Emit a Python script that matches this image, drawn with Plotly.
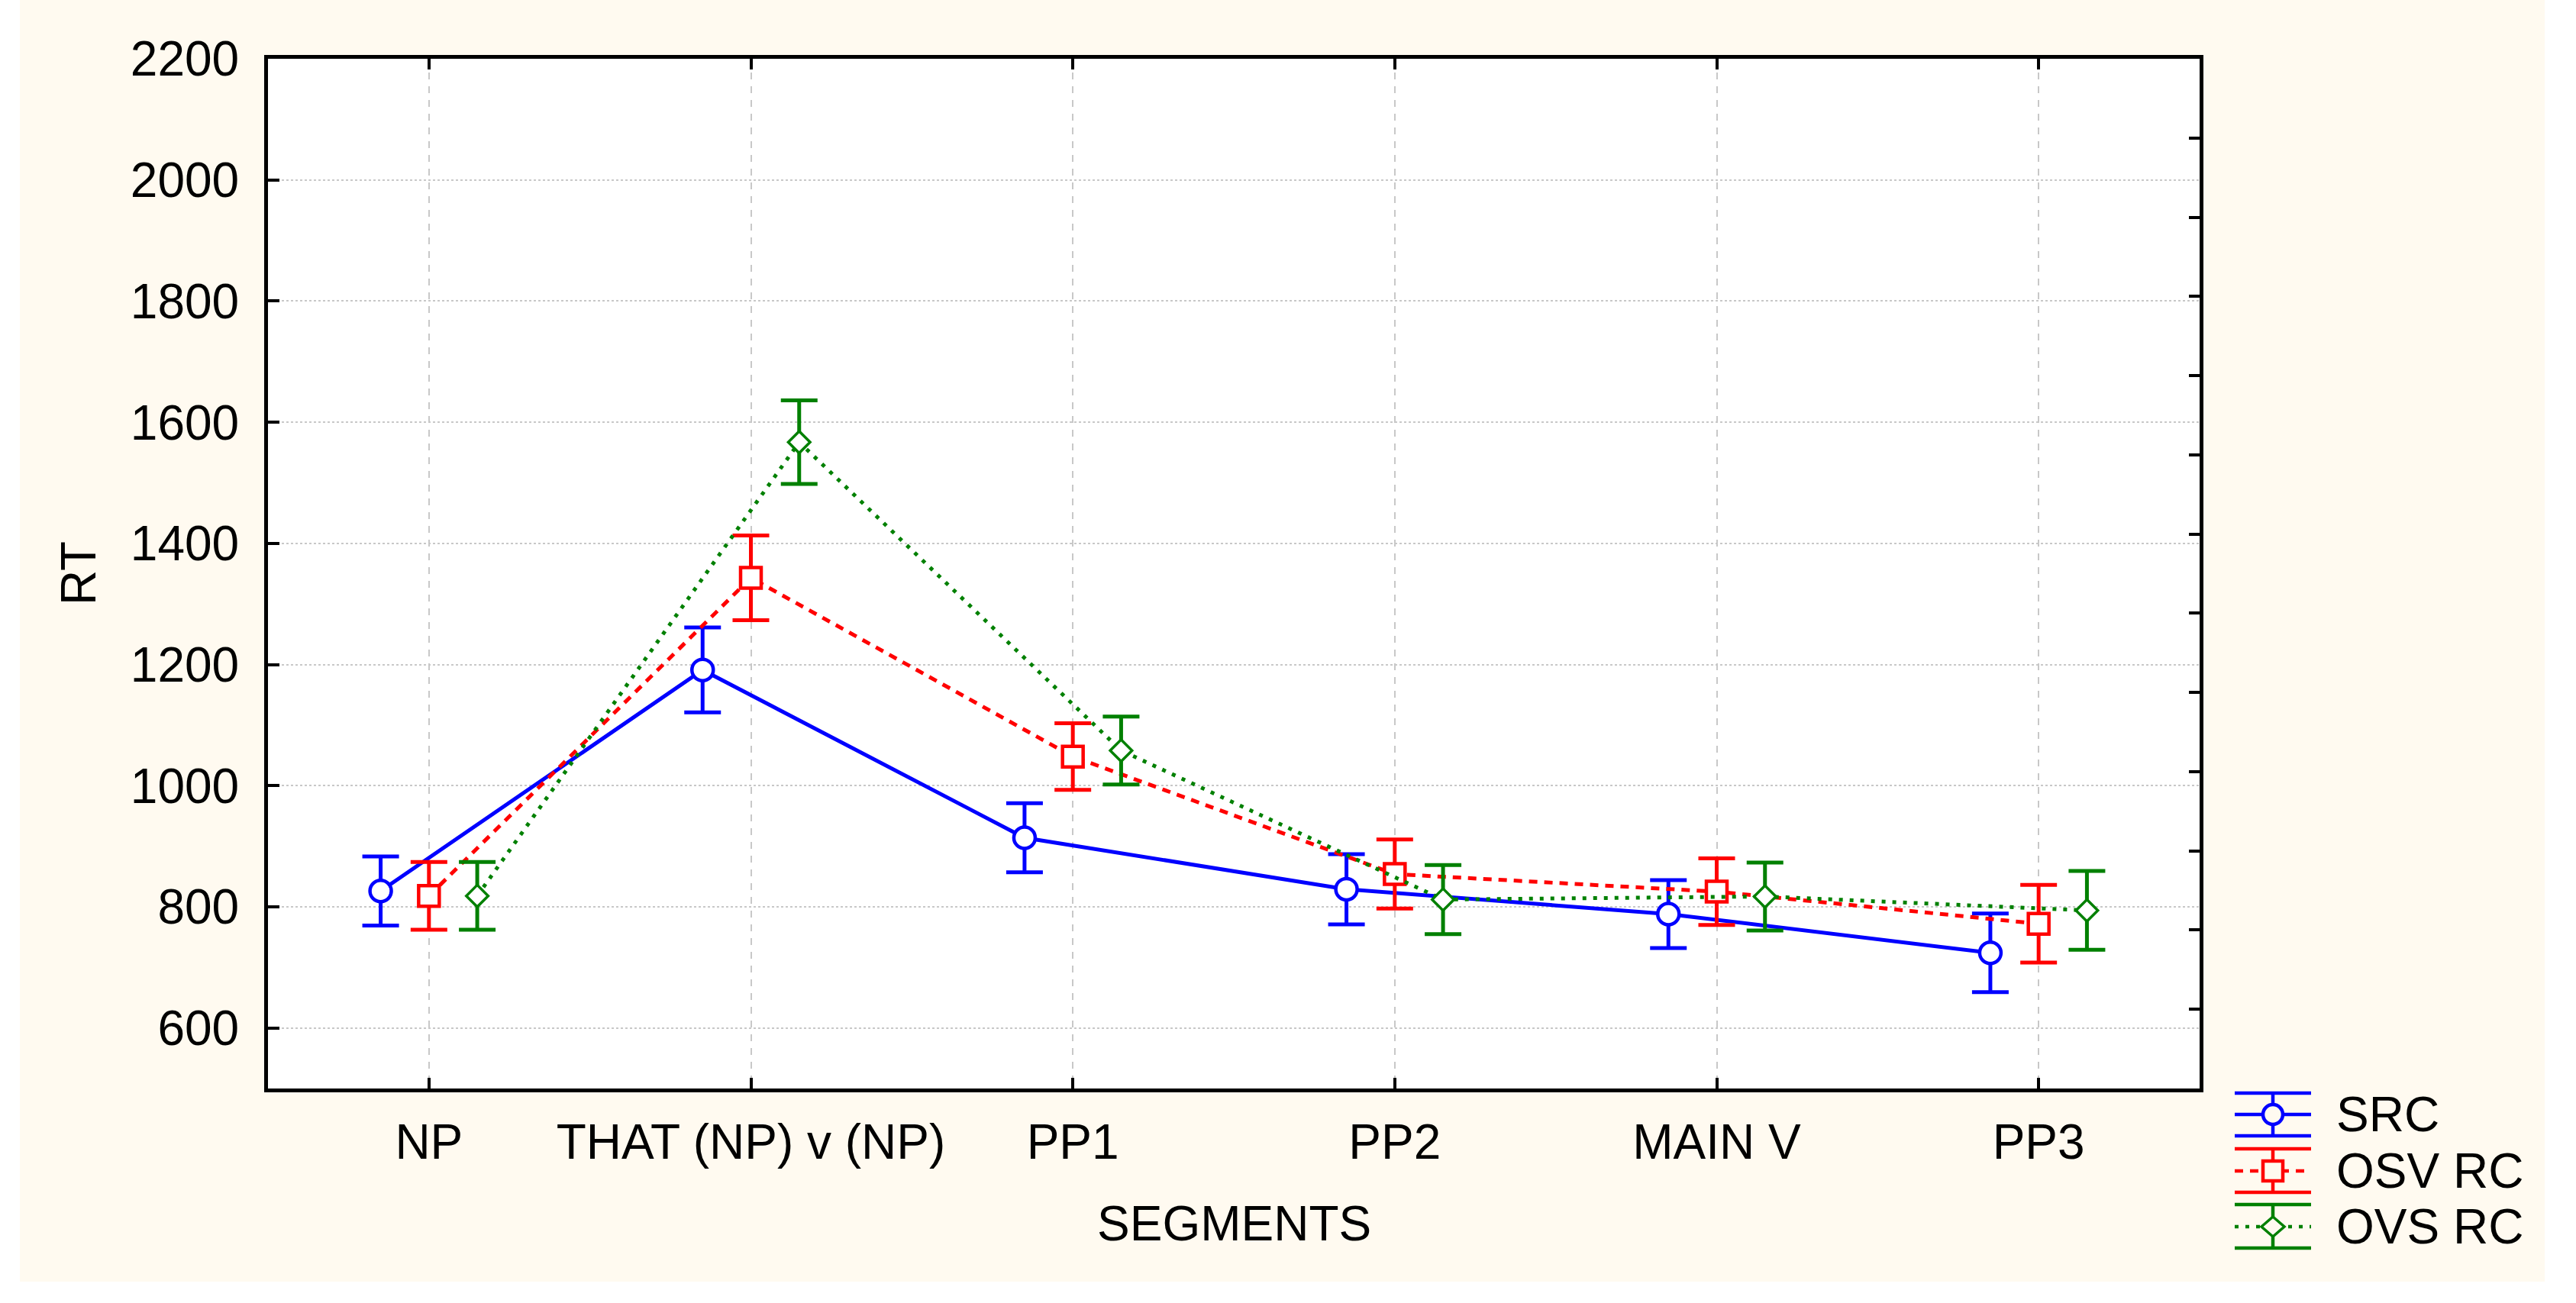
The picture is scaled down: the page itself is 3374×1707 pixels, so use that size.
import numpy as np
import plotly.graph_objects as go

# ---------------- data ----------------
categories = ["NP", "THAT (NP) v (NP)", "PP1", "PP2", "MAIN V", "PP3"]
y_ticks = [600, 800, 1000, 1200, 1400, 1600, 1800, 2000, 2200]

src_mean = [826, 1191, 914, 829, 788, 724]
src_err = [57, 70, 57, 58, 56, 65]
osv_mean = [818, 1343, 1048, 854, 825, 772]
osv_err = [56, 70, 55, 57, 55, 64]
ovs_mean = [818, 1567, 1058, 812, 817, 794]
ovs_err = [56, 69, 56, 57, 56, 65]
series_names = ["SRC", "OSV RC", "OVS RC"]

# ---------------- style ----------------
W, H = 3374, 1707
L, R, T, B = 351, 2881, 77, 1426
FONT = "Arial, 'Liberation Sans', sans-serif"
FS = 64
CREAM = "#FFFAF0"
BLUE, RED, GREEN = "#0000FF", "#FF0000", "#008000"
GRID = "#C8C8C8"
DASH_RED = "11px,9px"
DASH_GREEN = "5px,9px"


def px(x):
    return (x - L) / (R - L)


def py(y):
    return (B - y) / (B - T)


xi = np.arange(len(categories))
offset = 0.15

fig = go.Figure()

specs = [
    (series_names[0], src_mean, src_err, -offset, BLUE, "solid", "circle", 28, 4.5),
    (series_names[1], osv_mean, osv_err, 0.0, RED, DASH_RED, "square", 27, 4.5),
    (series_names[2], ovs_mean, ovs_err, offset, GREEN, DASH_GREEN, "diamond", 22, 3.5),
]

for name, mean, err, off, col, dash, sym, size, mlw in specs:
    fig.add_trace(go.Scatter(
        x=xi + off, y=mean, name=name, mode="lines+markers",
        line=dict(color=col, width=5, dash=dash),
        marker=dict(symbol=sym, size=size, color="white",
                    line=dict(color=col, width=mlw)),
        error_y=dict(type="data", array=err, visible=True, color=col,
                     thickness=5, width=24),
        showlegend=False,
    ))

# invisible trace for the right-hand tick axis
fig.add_trace(go.Scatter(x=[None], y=[None], yaxis="y2", showlegend=False,
                         hoverinfo="skip"))

fig.update_layout(
    width=W, height=H, autosize=False,
    margin=dict(l=L, r=W - R, t=T, b=H - B, pad=0),
    paper_bgcolor=CREAM, plot_bgcolor="white",
    font=dict(family=FONT, size=FS, color="black"),
    xaxis=dict(
        range=[-0.5, 5.5], tickvals=list(xi), ticktext=categories,
        showline=True, linecolor="black", linewidth=5, mirror="ticks",
        ticks="inside", ticklen=14, tickwidth=4, tickcolor="black",
        showgrid=True, gridcolor=GRID, gridwidth=2, griddash="dash",
        zeroline=False, tickfont=dict(size=FS), ticklabelstandoff=10,
    ),
    yaxis=dict(
        range=[500, 2200], tickvals=y_ticks,
        showline=True, linecolor="black", linewidth=5, mirror=True,
        ticks="inside", ticklen=15, tickwidth=4, tickcolor="black",
        showgrid=True, gridcolor=GRID, gridwidth=2, griddash="dot",
        zeroline=False, tickfont=dict(size=FS), ticklabelstandoff=20,
    ),
    yaxis2=dict(
        overlaying="y", side="right", range=[0, 13],
        tickvals=list(range(1, 13)), showticklabels=False,
        ticks="inside", ticklen=14, tickwidth=4, tickcolor="black",
        showgrid=False, zeroline=False, showline=False,
    ),
    showlegend=False,
)

annotations = [
    dict(text="RT", x=px(103), y=py(751), xref="paper", yref="paper",
         textangle=-90, showarrow=False, xanchor="center", yanchor="middle",
         font=dict(size=FS)),
    dict(text="SEGMENTS", x=px(1616), y=py(1603), xref="paper", yref="paper",
         showarrow=False, xanchor="center", yanchor="middle",
         font=dict(size=FS)),
]

shapes = []
# white page edges outside the cream panel
for x0, y0, x1, y1 in [(0, 0, 26, H), (3333, 0, W, H), (0, 1679, W, H)]:
    shapes.append(dict(type="rect", xref="paper", yref="paper",
                       x0=px(x0), x1=px(x1), y0=py(y0), y1=py(y1),
                       fillcolor="white", line=dict(width=0), layer="above"))

# custom legend glyphs (error-bar style)
lx0, lx1, lcx = 2927, 3027, 2977
leg_rows = [(1432, 1460, 1488), (1505, 1534, 1562), (1578, 1607, 1635)]
for (name, mean, err, off, col, dash, sym, size, mlw), (yt, yc, yb) in zip(specs, leg_rows):
    for yy in (yt, yb):
        shapes.append(dict(type="line", xref="paper", yref="paper",
                           x0=px(lx0), x1=px(lx1), y0=py(yy), y1=py(yy),
                           line=dict(color=col, width=4.5)))
    shapes.append(dict(type="line", xref="paper", yref="paper",
                       x0=px(lcx), x1=px(lcx), y0=py(yt), y1=py(yb),
                       line=dict(color=col, width=4.5)))
    shapes.append(dict(type="line", xref="paper", yref="paper",
                       x0=px(lx0), x1=px(lx1), y0=py(yc), y1=py(yc),
                       line=dict(color=col, width=4.5, dash=dash)))
    if sym == "circle":
        shapes.append(dict(type="circle", xref="paper", yref="paper",
                           x0=px(lcx - 13), x1=px(lcx + 13),
                           y0=py(yc - 13), y1=py(yc + 13),
                           fillcolor=CREAM, line=dict(color=col, width=4.5)))
    elif sym == "square":
        shapes.append(dict(type="rect", xref="paper", yref="paper",
                           x0=px(lcx - 13), x1=px(lcx + 13),
                           y0=py(yc - 13), y1=py(yc + 13),
                           fillcolor=CREAM, line=dict(color=col, width=4.5)))
    else:
        path = "M {a},{b} L {c},{d} L {e},{f} L {g},{h} Z".format(
            a=px(lcx - 15), b=py(yc), c=px(lcx), d=py(yc - 13),
            e=px(lcx + 15), f=py(yc), g=px(lcx), h=py(yc + 13))
        shapes.append(dict(type="path", xref="paper", yref="paper", path=path,
                           fillcolor=CREAM, line=dict(color=col, width=3.5)))
    annotations.append(dict(text=name, x=px(3058), y=py(yc), xref="paper",
                            yref="paper", showarrow=False, xanchor="left",
                            yanchor="middle", font=dict(size=FS)))

fig.update_layout(shapes=shapes, annotations=annotations)

fig.write_html("out.html", config={"displayModeBar": False},
               post_script="document.body.style.margin='0';")
